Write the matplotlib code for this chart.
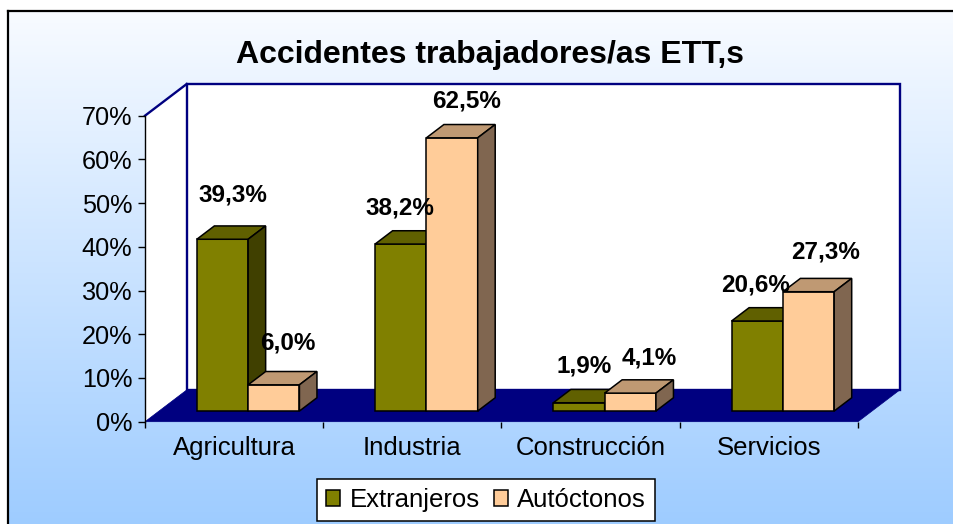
import numpy as np
import matplotlib
matplotlib.use('Agg')
import matplotlib.pyplot as plt
from matplotlib.patches import Polygon, Patch

# ---------------- data ----------------
categories = ['Agricultura', 'Industria', 'Construcción', 'Servicios']
series_names = ['Extranjeros', 'Autóctonos']
extranjeros = [39.3, 38.2, 1.9, 20.6]
autoctonos = [6.0, 62.5, 4.1, 27.3]
labels_extranjeros = ['39,3%', '38,2%', '1,9%', '20,6%']
labels_autoctonos = ['6,0%', '62,5%', '4,1%', '27,3%']
y_ticks = [0, 10, 20, 30, 40, 50, 60, 70]
y_tick_labels = ['0%', '10%', '20%', '30%', '40%', '50%', '60%', '70%']
title = 'Accidentes trabajadores/as ETT,s'

# ---------------- style / layout ----------------
plt.rcParams['font.family'] = ['Liberation Sans', 'DejaVu Sans']
W, H = 954, 524
NAVY = '#000080'
GREEN = ('#808000', '#606000', '#404000')
PEACH = ('#FFCC99', '#BF9973', '#806650')
# label offsets in pixels (dx, dy-up) relative to front-top centre of bar
off_ext = [(10, 44), (-1, 36), (5, 37), (-2, 36)]
off_aut = [(14, 42), (15, 37), (19, 35), (17, 40)]

fig = plt.figure(figsize=(W / 100, H / 100), dpi=100)
fig.patch.set_facecolor('white')

# background gradient panel
bg = fig.add_axes([8 / W, 0, (W - 8) / W, (H - 11) / H])
c_top = np.array([248, 251, 255]) / 255
c_bot = np.array([158, 204, 255]) / 255
t = np.linspace(0, 1, 256)[:, None]
grad = (c_top[None, :] * (1 - t) + c_bot[None, :] * t)[:, None, :]
bg.imshow(grad, aspect='auto', extent=[0, 1, 0, 1], origin='upper')
bg.set_xlim(0, 1)
bg.set_ylim(0, 1)
bg.set_xticks([])
bg.set_yticks([])
for s in ['right', 'bottom']:
    bg.spines[s].set_visible(False)
for s in ['left', 'top']:
    bg.spines[s].set_color('black')
    bg.spines[s].set_linewidth(1.6)
bg.set_zorder(-10)

# main axes: front box of the 3D plot
x0p, x1p, y0p, y1p = 145, 858, 421.7, 115.7
ax = fig.add_axes([x0p / W, (H - y0p) / H, (x1p - x0p) / W, (y0p - y1p) / H])
ax.patch.set_alpha(0)
n = len(categories)
ymax = y_ticks[-1]
ax.set_xlim(0, n)
ax.set_ylim(0, ymax)

px_x = (x1p - x0p) / n          # pixels per category
px_y = (y0p - y1p) / ymax       # pixels per percent
DX = 41.7 / px_x
DY = 31.7 / px_y

# walls & floor
ax.add_patch(Polygon([(0, 0), (DX, DY), (DX, ymax + DY), (0, ymax)],
                     closed=True, facecolor='white', edgecolor='none',
                     zorder=0, clip_on=False))
ax.add_patch(Polygon([(DX, DY), (n + DX, DY), (n + DX, ymax + DY), (DX, ymax + DY)],
                     closed=True, facecolor='white', edgecolor=NAVY, lw=1.7,
                     zorder=0.5, clip_on=False))
ax.plot([0, DX], [ymax, ymax + DY], color=NAVY, lw=1.7, zorder=0.6, clip_on=False)
ax.add_patch(Polygon([(0, 0), (n, 0), (n + DX, DY), (DX, DY)],
                     closed=True, facecolor=NAVY, edgecolor=NAVY, lw=0.5,
                     zorder=1, clip_on=False))

# bars
BW = 51.3 / px_x
F0 = 0.336
BD = 0.42
gap = (1 - 2 * BW) / 2


def draw_bar(xl, h, cols, z):
    ox, oy = F0 * DX, F0 * DY
    bx, by = BD * DX, BD * DY
    xr = xl + BW
    kw = dict(closed=True, edgecolor='black', lw=1.1, joinstyle='miter',
              clip_on=False, zorder=z)
    ax.add_patch(Polygon([(xl + ox, oy), (xr + ox, oy), (xr + ox, oy + h), (xl + ox, oy + h)],
                         facecolor=cols[0], **kw))
    ax.add_patch(Polygon([(xl + ox, oy + h), (xr + ox, oy + h),
                          (xr + ox + bx, oy + h + by), (xl + ox + bx, oy + h + by)],
                         facecolor=cols[1], **kw))
    ax.add_patch(Polygon([(xr + ox, oy), (xr + ox + bx, oy + by),
                          (xr + ox + bx, oy + h + by), (xr + ox, oy + h)],
                         facecolor=cols[2], **kw))
    return (xl + xr) / 2 + ox, oy + h


for i in range(n):
    for j, (vals, cols, labs, offs) in enumerate([
            (extranjeros, GREEN, labels_extranjeros, off_ext),
            (autoctonos, PEACH, labels_autoctonos, off_aut)]):
        xl = i + gap + j * BW
        cx, cy = draw_bar(xl, vals[i], cols, 3 + i * 2 + j)
        dxp, dyp = offs[i]
        ax.annotate(labs[i], xy=(cx, cy), xytext=(dxp * 0.72, dyp * 0.72),
                    textcoords='offset points', ha='center', va='center',
                    fontsize=17.5, fontweight='bold', color='black',
                    zorder=20, annotation_clip=False)

# axes styling
for s in ['top', 'right', 'bottom']:
    ax.spines[s].set_visible(False)
ax.spines['left'].set_color('black')
ax.spines['left'].set_linewidth(1.0)
ax.spines['left'].set_zorder(2)
ax.set_yticks(y_ticks)
ax.set_yticklabels(y_tick_labels)
ax.tick_params(axis='y', direction='out', length=5, width=1, pad=4.0,
               labelsize=18.2, colors='black')
ax.set_xticks(np.arange(n + 1))
ax.set_xticklabels([''] * (n + 1))
ax.tick_params(axis='x', which='major', direction='out', length=4.5, width=1,
               colors='black')
ax.set_xticks(np.arange(n) + 0.5, minor=True)
ax.set_xticklabels(categories, minor=True)
ax.tick_params(axis='x', which='minor', length=0, pad=10.5, labelsize=18.5)

# title
fig.text(490 / W, 1 - 55 / H, title, ha='center', va='center',
         fontsize=23, fontweight='bold', color='black')

# legend
handles = [Patch(facecolor=GREEN[0], edgecolor='black', lw=1.1),
           Patch(facecolor=PEACH[0], edgecolor='black', lw=1.1)]
leg = fig.legend(handles, series_names, loc='center', ncol=2,
                 bbox_to_anchor=(486 / W, 1 - 500 / H), frameon=True,
                 fancybox=False, shadow=False, fontsize=18.5,
                 handlelength=0.55, handleheight=0.55, handletextpad=0.36,
                 columnspacing=0.55, borderpad=0.35, borderaxespad=0)
leg.get_frame().set_edgecolor('black')
leg.get_frame().set_linewidth(1.1)
leg.get_frame().set_facecolor('white')
leg.get_frame().set_alpha(1)

fig.savefig('out.png', dpi=100, facecolor=fig.get_facecolor())
